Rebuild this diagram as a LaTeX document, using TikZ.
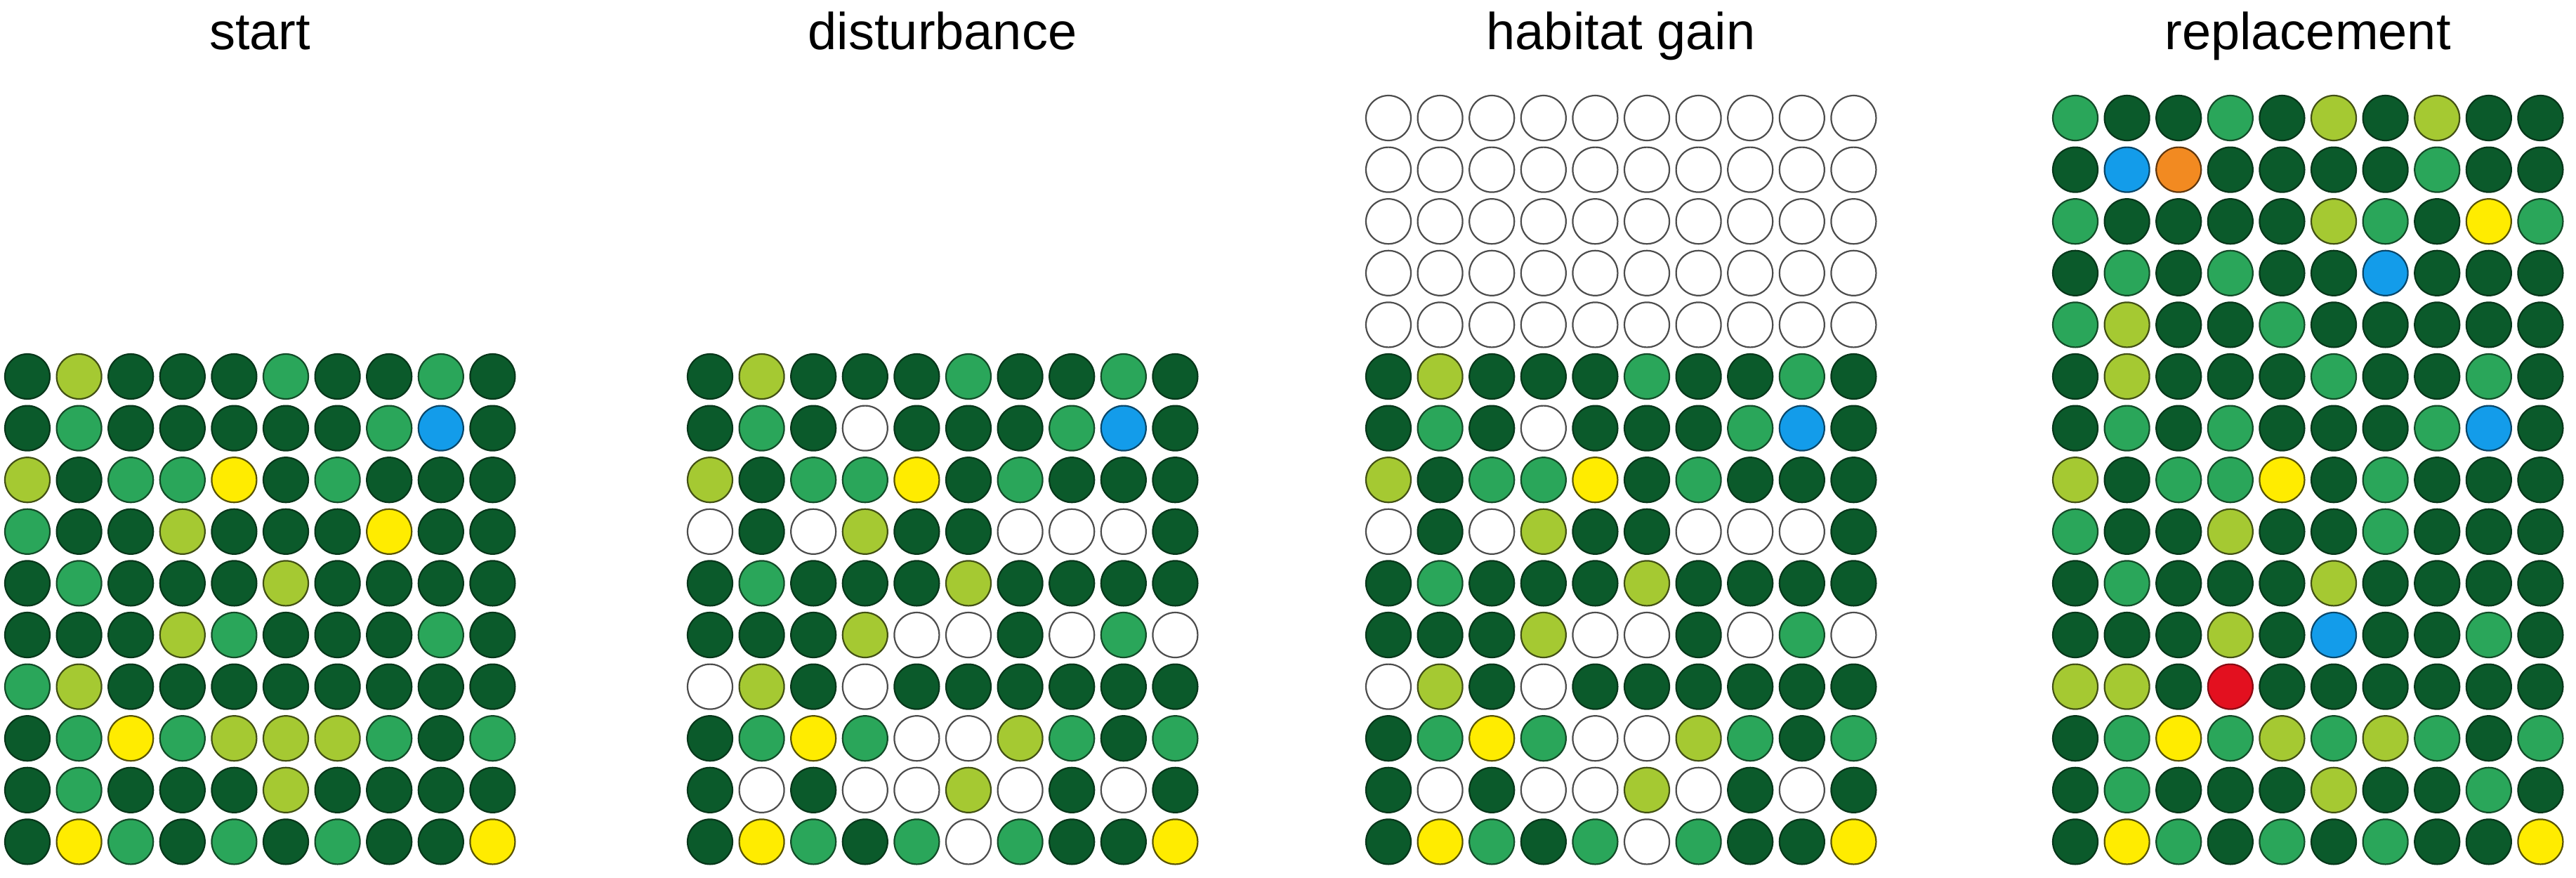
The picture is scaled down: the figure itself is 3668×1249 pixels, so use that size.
\documentclass[tikz,border=0pt]{standalone}
\usepackage{fontspec}
\setmainfont{Liberation Sans}
\definecolor{gdark}{HTML}{0B5A2B}
\definecolor{gmid}{HTML}{2AA65A}
\definecolor{glime}{HTML}{A5C932}
\definecolor{gyel}{HTML}{FFEC00}
\definecolor{gblue}{HTML}{139CEA}
\definecolor{gorange}{HTML}{F28A21}
\definecolor{gred}{HTML}{E3101F}
\newcommand\drawgrid[4]{%
  \foreach \rw [count=\r] in {#4} {
    \foreach \cc [count=\k] in \rw {
      \node[dot, c\cc] (#1-\r-\k) at ({#2+(\k-1)*73.6},{#3+(\r-1)*73.6}) {};
    }
  }
}
\begin{document}
\begin{tikzpicture}[x=0.5pt,y=-0.5pt,
  dot/.style={circle, minimum size=32pt, inner sep=0pt, line width=1.1pt},
  cD/.style={fill=gdark, draw=gdark!60!black},
  cM/.style={fill=gmid, draw=gmid!45!black},
  cL/.style={fill=glime, draw=glime!40!black},
  cY/.style={fill=gyel, draw=gyel!35!black},
  cB/.style={fill=gblue, draw=gblue!45!black},
  cO/.style={fill=gorange, draw=gorange!40!black},
  cR/.style={fill=gred, draw=gred!60!black},
  cW/.style={fill=white, draw=black!70},
  title/.style={anchor=base, font=\fontsize{37}{44}\selectfont, inner sep=0pt}]
\useasboundingbox (0,0) rectangle (3668,1249);
\fill[white] (0,0) rectangle (3668,1249);

\node[title] (t1) at (370,70) {start};
\node[title] (t2) at (1342,70) {disturbance};
\node[title] (t3) at (2308,70) {habitat gain};
\node[title] (t4) at (3286,70) {replacement};

% start
\drawgrid{s}{39}{536}{
 {D,L,D,D,D,M,D,D,M,D},
 {D,M,D,D,D,D,D,M,B,D},
 {L,D,M,M,Y,D,M,D,D,D},
 {M,D,D,L,D,D,D,Y,D,D},
 {D,M,D,D,D,L,D,D,D,D},
 {D,D,D,L,M,D,D,D,M,D},
 {M,L,D,D,D,D,D,D,D,D},
 {D,M,Y,M,L,L,L,M,D,M},
 {D,M,D,D,D,L,D,D,D,D},
 {D,Y,M,D,M,D,M,D,D,Y}}

% disturbance
\drawgrid{d}{1011}{536}{
 {D,L,D,D,D,M,D,D,M,D},
 {D,M,D,W,D,D,D,M,B,D},
 {L,D,M,M,Y,D,M,D,D,D},
 {W,D,W,L,D,D,W,W,W,D},
 {D,M,D,D,D,L,D,D,D,D},
 {D,D,D,L,W,W,D,W,M,W},
 {W,L,D,W,D,D,D,D,D,D},
 {D,M,Y,M,W,W,L,M,D,M},
 {D,W,D,W,W,L,W,D,W,D},
 {D,Y,M,D,M,W,M,D,D,Y}}

% habitat gain
\drawgrid{h}{1977}{168}{
 {W,W,W,W,W,W,W,W,W,W},
 {W,W,W,W,W,W,W,W,W,W},
 {W,W,W,W,W,W,W,W,W,W},
 {W,W,W,W,W,W,W,W,W,W},
 {W,W,W,W,W,W,W,W,W,W},
 {D,L,D,D,D,M,D,D,M,D},
 {D,M,D,W,D,D,D,M,B,D},
 {L,D,M,M,Y,D,M,D,D,D},
 {W,D,W,L,D,D,W,W,W,D},
 {D,M,D,D,D,L,D,D,D,D},
 {D,D,D,L,W,W,D,W,M,W},
 {W,L,D,W,D,D,D,D,D,D},
 {D,M,Y,M,W,W,L,M,D,M},
 {D,W,D,W,W,L,W,D,W,D},
 {D,Y,M,D,M,W,M,D,D,Y}}

% replacement
\drawgrid{r}{2955}{168}{
 {M,D,D,M,D,L,D,L,D,D},
 {D,B,O,D,D,D,D,M,D,D},
 {M,D,D,D,D,L,M,D,Y,M},
 {D,M,D,M,D,D,B,D,D,D},
 {M,L,D,D,M,D,D,D,D,D},
 {D,L,D,D,D,M,D,D,M,D},
 {D,M,D,M,D,D,D,M,B,D},
 {L,D,M,M,Y,D,M,D,D,D},
 {M,D,D,L,D,D,M,D,D,D},
 {D,M,D,D,D,L,D,D,D,D},
 {D,D,D,L,D,B,D,D,M,D},
 {L,L,D,R,D,D,D,D,D,D},
 {D,M,Y,M,L,M,L,M,D,M},
 {D,M,D,D,D,L,D,D,M,D},
 {D,Y,M,D,M,D,M,D,D,Y}}
\end{tikzpicture}
\end{document}
